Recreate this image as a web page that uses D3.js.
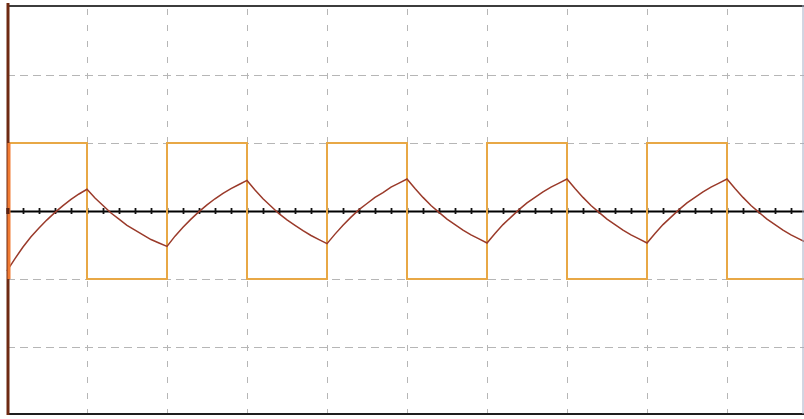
<!DOCTYPE html>
<html>
<head>
<meta charset="utf-8">
<script src="https://cdn.jsdelivr.net/npm/d3@7"></script>
<style>
  html, body { margin: 0; padding: 0; background: #fff; }
  svg { display: block; }
</style>
</head>
<body>
<div id="chart"></div>
<script>
// time in divisions, level in divisions
var squareTimes = [0, 1, 2, 3, 4, 5, 6, 7, 8, 9, 10];
var squareLevels = [1, -1, 1, -1, 1, -1, 1, -1, 1, -1, -1];

var curveTimes = [
  0, 0.1, 0.2, 0.3, 0.4, 0.5, 0.6, 0.7, 0.8, 0.9,
  1, 1.1, 1.2, 1.3, 1.4, 1.5, 1.6, 1.7, 1.8, 1.9,
  2, 2.1, 2.2, 2.3, 2.4, 2.5, 2.6, 2.7, 2.8, 2.9,
  3, 3.1, 3.2, 3.3, 3.4, 3.5, 3.6, 3.7, 3.8, 3.9,
  4, 4.1, 4.2, 4.3, 4.4, 4.5, 4.6, 4.7, 4.8, 4.9,
  5, 5.1, 5.2, 5.3, 5.4, 5.5, 5.6, 5.7, 5.8, 5.9,
  6, 6.1, 6.2, 6.3, 6.4, 6.5, 6.6, 6.7, 6.8, 6.9,
  7, 7.1, 7.2, 7.3, 7.4, 7.5, 7.6, 7.7, 7.8, 7.9,
  8, 8.1, 8.2, 8.3, 8.4, 8.5, 8.6, 8.7, 8.8, 8.9,
  9, 9.1, 9.2, 9.3, 9.4, 9.5, 9.6, 9.7, 9.8, 9.9, 10
];
var curveValues = [
  -0.88, -0.70, -0.53, -0.38, -0.25, -0.13, -0.02, 0.08, 0.17, 0.25,
  0.32, 0.19, 0.08, -0.03, -0.12, -0.21, -0.28, -0.35, -0.42, -0.47,
  -0.52, -0.37, -0.24, -0.12, -0.01, 0.09, 0.18, 0.26, 0.33, 0.39,
  0.45, 0.31, 0.18, 0.07, -0.04, -0.13, -0.21, -0.29, -0.36, -0.42,
  -0.48, -0.34, -0.21, -0.09, 0.02, 0.11, 0.20, 0.27, 0.35, 0.41,
  0.47, 0.33, 0.20, 0.08, -0.02, -0.12, -0.20, -0.28, -0.35, -0.41,
  -0.47, -0.33, -0.20, -0.09, 0.02, 0.12, 0.20, 0.28, 0.35, 0.41,
  0.47, 0.33, 0.20, 0.08, -0.02, -0.12, -0.20, -0.28, -0.35, -0.41,
  -0.47, -0.33, -0.20, -0.09, 0.02, 0.12, 0.20, 0.28, 0.35, 0.41,
  0.47, 0.33, 0.20, 0.08, -0.02, -0.12, -0.20, -0.28, -0.35, -0.41, -0.47
];

var gridX = [1, 2, 3, 4, 5, 6, 7, 8, 9];
var gridY = [-2, -1, 1, 2];

var width = 804, height = 419;

var x = d3.scaleLinear().domain([0, 10]).range([7, 807]);
var y = d3.scaleLinear().domain([-3, 3]).range([415, 7]);

var svg = d3.select("#chart")
  .append("svg")
  .attr("width", width)
  .attr("height", height);

svg.append("rect")
  .attr("width", width)
  .attr("height", height)
  .attr("fill", "#fff");

// vertical grid
svg.append("g")
  .attr("transform", "translate(0," + y(-3) + ")")
  .call(d3.axisBottom(x).tickValues(gridX).tickSize(-(y(-3) - y(3))).tickFormat(""))
  .call(g => g.select(".domain").remove())
  .selectAll("line")
  .attr("stroke", "#b6b6b6")
  .attr("stroke-dasharray", "6,10");

// horizontal grid
svg.append("g")
  .attr("transform", "translate(" + x(0) + ",0)")
  .call(d3.axisLeft(y).tickValues(gridY).tickSize(-(x(10) - x(0))).tickFormat(""))
  .call(g => g.select(".domain").remove())
  .selectAll("line")
  .attr("stroke", "#b6b6b6")
  .attr("stroke-dasharray", "8,5");

// center axis with minor ticks
var minorTicks = d3.range(0, 51).map(d => d / 5);
svg.append("g")
  .attr("transform", "translate(0," + y(0) + ")")
  .call(d3.axisBottom(x).tickValues(minorTicks).tickSize(3).tickSizeOuter(0).tickFormat(""))
  .call(g => g.select(".domain").attr("stroke", "#000").attr("stroke-width", 2))
  .call(g => g.selectAll(".tick line").attr("y1", -3).attr("stroke", "#111").attr("stroke-width", 1.8));

// square wave
var square = squareTimes.map((t, i) => ({ t: t, v: squareLevels[i] }));
var stepLine = d3.line()
  .x(d => x(d.t))
  .y(d => y(d.v))
  .curve(d3.curveStepAfter);

svg.append("path")
  .datum(square)
  .attr("d", stepLine)
  .attr("fill", "none")
  .attr("stroke", "#e8a846")
  .attr("stroke-width", 2);

// response curve
var response = curveTimes.map((t, i) => ({ t: t, v: curveValues[i] }));
var line = d3.line()
  .x(d => x(d.t))
  .y(d => y(d.v));

svg.append("path")
  .datum(response)
  .attr("d", line)
  .attr("fill", "none")
  .attr("stroke", "#9a3a2a")
  .attr("stroke-width", 1.5);

// frame
svg.append("line")
  .attr("x1", x(0)).attr("x2", width)
  .attr("y1", y(3) - 1).attr("y2", y(3) - 1)
  .attr("stroke", "#3c3c3c").attr("stroke-width", 2);

svg.append("line")
  .attr("x1", x(0)).attr("x2", width)
  .attr("y1", y(-3) - 1).attr("y2", y(-3) - 1)
  .attr("stroke", "#1e1e1e").attr("stroke-width", 2);

svg.append("line")
  .attr("x1", width - 1).attr("x2", width - 1)
  .attr("y1", y(3) - 2).attr("y2", y(-3) - 1)
  .attr("stroke", "#a4acc4").attr("stroke-width", 1);

svg.append("line")
  .attr("x1", x(0) + 1).attr("x2", x(0) + 1)
  .attr("y1", y(3) - 4).attr("y2", y(-3))
  .attr("stroke", "#6e2a12").attr("stroke-width", 3);

svg.append("line")
  .attr("x1", x(0) + 2).attr("x2", x(0) + 2)
  .attr("y1", y(1)).attr("y2", y(-1))
  .attr("stroke", "#f07a32").attr("stroke-width", 3);

svg.append("line")
  .attr("x1", x(0) + 1).attr("x2", x(0) + 1)
  .attr("y1", y(0) - 3).attr("y2", y(0) + 3)
  .attr("stroke", "#5a2010").attr("stroke-width", 3);
</script>
</body>
</html>
